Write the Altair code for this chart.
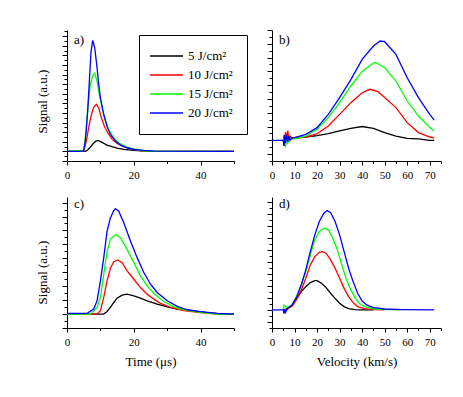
import altair as alt
import pandas as pd

SERIF = "Liberation Serif"
SERIES = ["\u00a0\u00a05 J/cm\u00b2", "10 J/cm\u00b2", "15 J/cm\u00b2", "20 J/cm\u00b2"]
COLORS = ["#000000", "#ff0000", "#00ff00", "#0000ff"]

TIME_TICKS = [0, 10, 20, 30, 40, 50]
VEL_TICKS = [0, 5, 10, 15, 20, 25, 30, 35, 40, 45, 50, 55, 60, 65, 70, 75]

# ---------------- panel a : signal vs time ----------------
a5_x = [0, 5.5, 6.2, 7, 7.8, 8.5, 9.3, 10.5, 12, 13.5, 15, 17, 20, 23, 26, 50]
a5_y = [0, 0, 0.14, 0.45, 0.8, 1.04, 1.15, 0.94, 0.66, 0.49, 0.35, 0.21, 0.1, 0.03, 0, 0]
a10_x = [0, 5, 5.8, 6.5, 7.2, 8, 8.8, 9.5, 10.3, 11.2, 12.2, 13.5, 15, 17, 19, 21, 24, 27, 50]
a10_y = [0, 0, 1.1, 2.5, 3.7, 4.6, 4.9, 4.55, 3.5, 2.6, 1.95, 1.25, 0.83, 0.5, 0.28, 0.14, 0.03, 0, 0]
a15_x = [0, 5, 5.7, 6.3, 7, 7.8, 8.3, 9, 9.7, 10.5, 11.5, 12.5, 14, 15.5, 17.5, 20, 23, 26, 50]
a15_y = [0, 0.1, 2.1, 4.9, 7.0, 8.0, 8.16, 7.3, 5.9, 4.5, 3.2, 2.3, 1.4, 0.9, 0.5, 0.25, 0.07, 0, 0]
a20_x = [0, 4.5, 5, 5.5, 6.2, 6.8, 7.2, 7.7, 8.3, 9, 9.5, 10, 11, 12, 13, 14.5, 16, 18, 20, 23, 26, 50]
a20_y = [0, 0, 0.1, 1.08, 4.2, 8.0, 10.4, 11.56, 10.8, 8.7, 7.0, 5.6, 3.85, 2.6, 1.77, 1.08, 0.66, 0.38, 0.21, 0.1, 0.03, 0]

# ---------------- panel b : signal vs velocity ----------------
b5_x = [5, 5.5, 6, 7, 8, 9, 10, 15, 20, 25, 30, 35, 40, 45, 50, 55, 60, 65, 70, 72]
b5_y = [0, 0.4, 0.1, 0.3, 0.2, 0.2, 0.2, 0.24, 0.34, 0.48, 0.68, 0.87, 1.0, 0.87, 0.56, 0.31, 0.14, 0.1, 0, 0]
b10_x = [5, 5.5, 6, 6.5, 7, 7.5, 8, 9, 10, 15, 20, 25, 30, 35, 40, 43.5, 47, 50, 55, 60, 65, 70, 72]
b10_y = [0, -0.4, 0.6, 0.2, 0.7, 0.1, 0.3, 0.15, 0.15, 0.24, 0.48, 1.04, 1.88, 2.73, 3.45, 3.7, 3.53, 3.1, 2.37, 1.28, 0.56, 0.24, 0.17]
b15_x = [5, 5.5, 6, 6.5, 7, 8, 10, 15, 20, 25, 30, 35, 40, 45, 46, 50, 55, 60, 65, 70, 72]
b15_y = [0, 0.2, -0.5, 0.3, -0.2, 0.1, 0.1, 0.3, 0.8, 1.64, 2.73, 3.94, 5.0, 5.6, 5.65, 5.27, 4.3, 2.85, 1.76, 0.92, 0.68]
b20_x = [0, 5, 5.3, 5.6, 6, 6.5, 7, 7.5, 8, 9, 10, 15, 20, 25, 30, 35, 40, 45, 48, 50, 55, 60, 65, 70, 72]
b20_y = [0, 0, -0.4, 0.3, -0.2, 0.4, -0.1, 0.3, 0, 0.2, 0.2, 0.43, 0.92, 1.88, 3.1, 4.4, 5.87, 6.84, 7.2, 7.15, 6.23, 4.54, 3.1, 1.88, 1.47]

# ---------------- panel c : signal vs time ----------------
c5_x = [0, 11, 12, 13, 14, 15, 16.5, 18, 20, 22, 24, 27, 30, 33, 37, 42, 46, 50]
c5_y = [0, 0, 0.19, 0.48, 0.83, 1.14, 1.36, 1.43, 1.31, 1.14, 0.95, 0.71, 0.52, 0.36, 0.24, 0.1, 0.02, 0]
c10_x = [0, 9, 10, 11, 12, 13, 14, 15.2, 16.5, 18, 20, 22, 24, 26, 28, 31, 35, 40, 45, 50]
c10_y = [0, 0, 0.24, 1.19, 2.38, 3.29, 3.76, 3.88, 3.69, 3.1, 2.5, 1.9, 1.43, 1.07, 0.76, 0.48, 0.24, 0.1, 0, 0]
c15_x = [0, 7, 9, 10, 11, 12, 13, 14.5, 16, 18, 20, 22, 24, 26, 29, 32, 35, 40, 45, 50]
c15_y = [0, 0, 0.48, 1.19, 2.86, 4.52, 5.36, 5.71, 5.48, 4.64, 3.69, 2.74, 2.02, 1.48, 0.9, 0.52, 0.31, 0.12, 0, 0]
c20_x = [0, 6, 8, 9, 10, 11, 12, 13, 14, 14.5, 15.5, 17, 19, 21, 23, 25, 27, 30, 33, 36, 40, 45, 50]
c20_y = [0.05, 0.05, 0.36, 0.95, 2.38, 4.05, 5.95, 6.9, 7.43, 7.57, 7.38, 6.55, 5.24, 4.05, 2.98, 2.14, 1.55, 0.95, 0.55, 0.31, 0.17, 0.05, 0]

# ---------------- panel d : signal vs velocity ----------------
d5_x = [5, 6, 7, 9, 11, 13, 15, 17, 19, 20, 22, 24, 26, 28, 30, 32, 34, 37, 40, 45]
d5_y = [0, 0.05, 0.14, 0.42, 0.97, 1.53, 1.94, 2.28, 2.44, 2.44, 2.22, 1.86, 1.39, 0.97, 0.56, 0.28, 0.11, 0.03, 0, 0]
d10_x = [5, 6, 7, 9, 11, 13, 15, 17, 19, 21, 22.5, 24, 26, 28, 30, 32, 34, 36, 38, 41, 45, 50]
d10_y = [0, 0, 0.08, 0.33, 0.89, 1.67, 2.64, 3.75, 4.44, 4.8, 4.86, 4.72, 4.17, 3.47, 2.64, 1.8, 1.11, 0.61, 0.28, 0.11, 0.03, 0]
d15_x = [5, 5.3, 6, 7, 9, 11, 13, 15, 17, 19, 21, 23, 25, 27, 29, 31, 33, 35, 37, 39, 42, 46, 52, 57]
d15_y = [0.1, 0.4, 0.3, 0.14, 0.5, 1.17, 2.1, 3.2, 4.58, 5.83, 6.53, 6.8, 6.67, 5.97, 5.0, 3.75, 2.56, 1.67, 0.97, 0.5, 0.22, 0.08, 0.03, 0]
d20_x = [0, 5, 5.3, 5.7, 6, 7, 9, 11, 13, 15, 17, 19, 21, 23, 24.5, 26, 28, 30, 32, 34, 36, 38, 40, 42, 45, 50, 58, 72]
d20_y = [0, 0, -0.3, 0.1, -0.2, 0.14, 0.42, 1.1, 2.1, 3.33, 4.86, 6.25, 7.36, 8.05, 8.28, 8.1, 7.36, 6.25, 4.86, 3.47, 2.36, 1.39, 0.75, 0.42, 0.19, 0.08, 0.03, 0]


def half_steps(lo, hi):
    vals = []
    v = lo
    while v <= hi + 1e-9:
        vals.append(round(v, 2))
        v += 0.5
    return vals


def panel(curves, xdom, xticks, xmajor, ydom, tag, width, tag_y=10, xtitle=None, ytitle=None,
          ytitle_y=None, legend=None):
    rows = []
    for name, (xs, ys) in zip(SERIES, curves):
        rows += [{"x": x, "y": y, "s": name} for x, y in zip(xs, ys)]
    df = pd.DataFrame(rows)

    xaxis_kw = dict(
        values=xticks,
        labelExpr=f"datum.value % {xmajor} === 0 ? datum.label : ''",
        tickSize={"condition": {"test": f"datum.value % {xmajor} === 0", "value": 4}, "value": 2.5},
        labelFlush=False,
        labelPadding=4,
        titlePadding=8,
    )
    yaxis_kw = dict(
        values=half_steps(*ydom),
        labels=False,
        tickSize={"condition": {"test": "datum.value % 1 === 0", "value": 5}, "value": 3},
        titlePadding=12,
    )
    if ytitle_y is not None:
        yaxis_kw["titleY"] = ytitle_y

    color = alt.Color(
        "s:N",
        scale=alt.Scale(domain=SERIES, range=COLORS),
        sort=SERIES,
        legend=legend,
    )
    lines = alt.Chart(df).mark_line(strokeWidth=1.3, clip=True).encode(
        x=alt.X("x:Q", scale=alt.Scale(domain=xdom, nice=False, zero=False),
                axis=alt.Axis(**xaxis_kw), title=xtitle),
        y=alt.Y("y:Q", scale=alt.Scale(domain=list(ydom), nice=False, zero=False),
                axis=alt.Axis(**yaxis_kw), title=ytitle),
        color=color,
    )
    label = alt.Chart(pd.DataFrame({"tag": [tag]})).mark_text(
        align="left", baseline="middle", font=SERIF, fontSize=13, color="black"
    ).encode(text="tag:N", x=alt.value(7), y=alt.value(tag_y))
    return alt.layer(lines, label).properties(width=width, height=131)


legend_a = alt.Legend(
    orient="none", legendX=72, legendY=5, title=None,
    strokeColor="black", fillColor="white", padding=14,
    symbolType="M-2.75,0H2.75", symbolSize=144, symbolStrokeWidth=1.3,
    symbolOffset=6.5, labelOffset=14.5,
    labelFont=SERIF, labelFontSize=13, labelColor="black", rowPadding=5,
)

pa = panel([(a5_x, a5_y), (a10_x, a10_y), (a15_x, a15_y), (a20_x, a20_y)],
           [0, 50], TIME_TICKS, 20, (-1.0, 12.65), "a)", 167, tag_y=10,
           ytitle="Signal (a.u.)", ytitle_y=71, legend=legend_a)
pb = panel([(b5_x, b5_y), (b10_x, b10_y), (b15_x, b15_y), (b20_x, b20_y)],
           [0, 75], VEL_TICKS, 10, (-1.5, 8.0), "b)", 169, tag_y=10, legend=None)
pc = panel([(c5_x, c5_y), (c10_x, c10_y), (c15_x, c15_y), (c20_x, c20_y)],
           [0, 50], TIME_TICKS, 20, (-1.0, 8.4), "c)", 167, tag_y=7,
           xtitle="Time (\u03bcs)", ytitle="Signal (a.u.)", ytitle_y=75, legend=None)
pd_ = panel([(d5_x, d5_y), (d10_x, d10_y), (d15_x, d15_y), (d20_x, d20_y)],
            [0, 75], VEL_TICKS, 10, (-1.5, 9.4), "d)", 169, tag_y=7,
            xtitle="Velocity (km/s)", legend=None)

top = alt.hconcat(pa, pb, spacing=38, bounds="flush").resolve_scale(
    color="independent").resolve_legend(color="independent")
bottom = alt.hconcat(pc, pd_, spacing=38, bounds="flush").resolve_scale(
    color="independent").resolve_legend(color="independent")

chart = alt.vconcat(top, bottom, spacing=17).resolve_scale(
    color="independent").resolve_legend(color="independent").properties(
    padding={"left": 28, "top": 21, "right": 5, "bottom": 5},
    background="white",
).configure_view(stroke=None).configure_axis(
    labelFont=SERIF, titleFont=SERIF, labelFontSize=11, titleFontSize=13,
    titleFontWeight="normal", domainColor="black", tickColor="black",
    labelColor="black", titleColor="black", grid=False, domainWidth=1, tickWidth=1,
)

chart.save("out.html", embed_options={"renderer": "svg", "actions": False})
